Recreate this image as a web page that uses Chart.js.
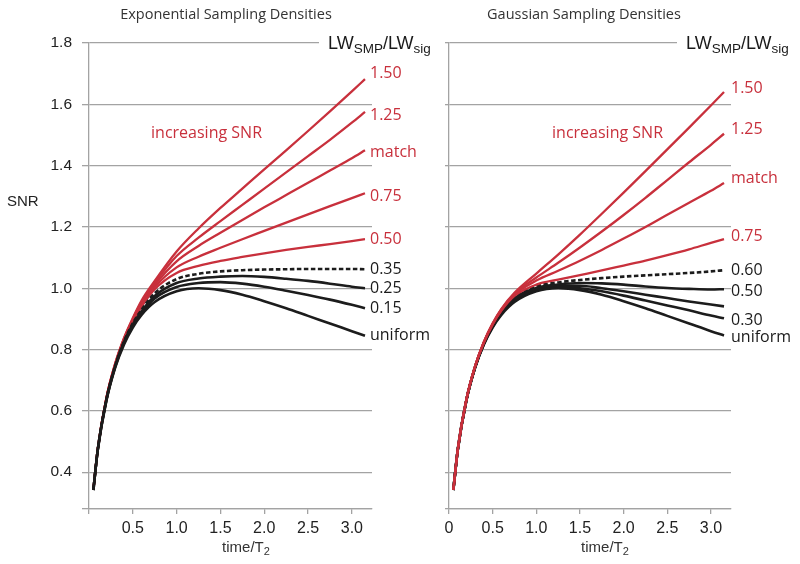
<!DOCTYPE html>
<html>
<head>
<meta charset="utf-8">
<script src="https://cdn.jsdelivr.net/npm/chart.js@4.4.0/dist/chart.umd.min.js"></script>
<style>
  body { margin: 0; background: #fff; }
  #wrap { position: relative; width: 800px; height: 564px; }
  #left { position: absolute; left: 0; top: 0; }
  #right { position: absolute; left: 400px; top: 0; }
</style>
</head>
<body>
<div id="wrap">
  <canvas id="left" width="450" height="564"></canvas>
  <canvas id="right" width="400" height="564"></canvas>
</div>
<script>
// time/T2 sample points shared by every curve
const times = [0.05, 0.1, 0.2, 0.3, 0.4, 0.5, 0.6, 0.75, 1.0, 1.25, 1.5, 1.75, 2.0, 2.25, 2.5, 2.75, 3.0, 3.15];

// exponential sampling densities (SNR)
const expUniform = [0.342, 0.472, 0.635, 0.742, 0.817, 0.872, 0.913, 0.955, 0.990, 1.000, 0.994, 0.979, 0.958, 0.935, 0.910, 0.885, 0.860, 0.845];
const exp015 = [0.342, 0.473, 0.637, 0.745, 0.822, 0.878, 0.920, 0.967, 1.004, 1.017, 1.020, 1.015, 1.005, 0.992, 0.978, 0.963, 0.946, 0.935];
const exp025 = [0.342, 0.473, 0.638, 0.747, 0.825, 0.882, 0.925, 0.975, 1.017, 1.032, 1.038, 1.040, 1.037, 1.031, 1.024, 1.015, 1.005, 1.000];
const exp035 = [0.342, 0.473, 0.639, 0.748, 0.827, 0.886, 0.930, 0.984, 1.030, 1.047, 1.055, 1.059, 1.061, 1.062, 1.063, 1.063, 1.063, 1.062];
const exp050 = [0.342, 0.474, 0.641, 0.751, 0.830, 0.890, 0.940, 0.997, 1.050, 1.073, 1.089, 1.102, 1.114, 1.125, 1.135, 1.144, 1.154, 1.160];
const exp075 = [0.342, 0.474, 0.642, 0.752, 0.832, 0.894, 0.945, 1.004, 1.068, 1.103, 1.132, 1.160, 1.187, 1.214, 1.241, 1.268, 1.294, 1.310];
const expMatch = [0.342, 0.475, 0.643, 0.753, 0.834, 0.897, 0.950, 1.011, 1.088, 1.138, 1.181, 1.223, 1.264, 1.304, 1.344, 1.384, 1.424, 1.450];
const exp125 = [0.342, 0.475, 0.644, 0.754, 0.836, 0.900, 0.955, 1.017, 1.105, 1.165, 1.219, 1.272, 1.325, 1.378, 1.431, 1.484, 1.540, 1.575];
const exp150 = [0.342, 0.476, 0.645, 0.756, 0.838, 0.903, 0.960, 1.024, 1.120, 1.195, 1.262, 1.325, 1.388, 1.450, 1.513, 1.577, 1.642, 1.682];

// gaussian sampling densities (SNR)
const gUniform = [0.342, 0.472, 0.635, 0.742, 0.817, 0.872, 0.913, 0.955, 0.990, 1.000, 0.994, 0.979, 0.958, 0.935, 0.910, 0.885, 0.860, 0.846];
const g030 = [0.342, 0.472, 0.636, 0.743, 0.819, 0.875, 0.918, 0.962, 0.995, 1.004, 1.000, 0.990, 0.976, 0.960, 0.944, 0.928, 0.911, 0.902];
const g040 = [0.342, 0.472, 0.636, 0.744, 0.820, 0.877, 0.920, 0.965, 0.998, 1.008, 1.008, 1.000, 0.990, 0.979, 0.968, 0.957, 0.947, 0.941];
const g050 = [0.342, 0.472, 0.637, 0.744, 0.821, 0.878, 0.922, 0.968, 1.001, 1.012, 1.017, 1.016, 1.012, 1.006, 1.001, 0.998, 0.996, 0.997];
const g060 = [0.342, 0.473, 0.637, 0.745, 0.822, 0.880, 0.924, 0.971, 1.006, 1.019, 1.027, 1.033, 1.038, 1.042, 1.046, 1.050, 1.055, 1.059];
const g075 = [0.342, 0.473, 0.638, 0.746, 0.823, 0.882, 0.927, 0.975, 1.012, 1.028, 1.043, 1.058, 1.074, 1.090, 1.108, 1.127, 1.148, 1.160];
const gMatch = [0.342, 0.473, 0.638, 0.746, 0.824, 0.883, 0.929, 0.979, 1.025, 1.057, 1.090, 1.125, 1.162, 1.200, 1.240, 1.279, 1.318, 1.343];
const g125 = [0.342, 0.473, 0.638, 0.747, 0.825, 0.884, 0.931, 0.982, 1.035, 1.083, 1.133, 1.185, 1.239, 1.295, 1.353, 1.411, 1.468, 1.504];
const g150 = [0.342, 0.473, 0.639, 0.747, 0.826, 0.886, 0.933, 0.985, 1.048, 1.110, 1.175, 1.243, 1.312, 1.382, 1.453, 1.524, 1.596, 1.640];

const expNames = ['uniform', '0.15', '0.25', '0.35', '0.50', '0.75', 'match', '1.25', '1.50'];
const gaussNames = ['1.50', '1.25', 'match', '0.75', '0.60', '0.50', '', '0.30', 'uniform'];

const xTicks = [0, 0.5, 1.0, 1.5, 2.0, 2.5, 3.0];
const yTicks = [0.4, 0.6, 0.8, 1.0, 1.2, 1.4, 1.6, 1.8];
const yMin = 0.28;

const RED = '#c8303c';
const BLACK = '#1c1c1c';
const GRID = '#a3a3a3';

function pts(vals) {
  return vals.map((v, i) => ({ x: times[i], y: v }));
}

function makeDataset(vals, name, color, dashed) {
  return {
    label: name,
    data: pts(vals),
    borderColor: color,
    borderWidth: color === RED ? 2.3 : 2.6,
    borderDash: dashed ? [4.5, 2.5] : [],
    pointRadius: 0,
    fill: false,
    cubicInterpolationMode: 'monotone'
  };
}

// first dataset is drawn on top
const expDatasets = [
  makeDataset(expUniform, expNames[0], BLACK),
  makeDataset(exp015, expNames[1], BLACK),
  makeDataset(exp025, expNames[2], BLACK),
  makeDataset(exp035, expNames[3], BLACK, true),
  makeDataset(exp050, expNames[4], RED),
  makeDataset(exp075, expNames[5], RED),
  makeDataset(expMatch, expNames[6], RED),
  makeDataset(exp125, expNames[7], RED),
  makeDataset(exp150, expNames[8], RED)
];

const gaussDatasets = [
  makeDataset(g150, gaussNames[0], RED),
  makeDataset(g125, gaussNames[1], RED),
  makeDataset(gMatch, gaussNames[2], RED),
  makeDataset(g075, gaussNames[3], RED),
  makeDataset(g060, gaussNames[4], BLACK, true),
  makeDataset(g050, gaussNames[5], BLACK),
  makeDataset(g040, gaussNames[6], BLACK),
  makeDataset(g030, gaussNames[7], BLACK),
  makeDataset(gUniform, gaussNames[8], BLACK)
];

function drawSub(ctx, parts, x, y, big, small, family) {
  // parts: [text, isSub]
  let cx = x;
  parts.forEach(([t, sub]) => {
    ctx.font = (sub ? small : big) + 'px ' + family;
    ctx.fillText(t, cx, sub ? y + big * 0.28 : y);
    cx += ctx.measureText(t).width;
  });
  return cx - x;
}

function measureSub(ctx, parts, big, small, family) {
  let w = 0;
  parts.forEach(([t, sub]) => {
    ctx.font = (sub ? small : big) + 'px ' + family;
    w += ctx.measureText(t).width;
  });
  return w;
}

const textPlugin = {
  id: 'panelText',
  afterDraw(chart, args, o) {
    const ctx = chart.ctx;
    ctx.save();
    ctx.textBaseline = 'middle';

    // panel title
    ctx.fillStyle = '#333';
    ctx.textAlign = 'center';
    ctx.font = '14.5px "Open Sans"';
    ctx.fillText(o.title, o.titleX, 15);

    // LW_SMP/LW_sig header with white backing to cut the top gridline
    const lw = [['LW', false], ['SMP', true], ['/LW', false], ['sig', true]];
    const fam = '"Liberation Sans", Arial';
    const w = measureSub(ctx, lw, 18, 13.5, fam);
    ctx.fillStyle = '#fff';
    ctx.fillRect(o.lwX - 9, 34, w + 12, 22);
    ctx.fillStyle = '#1a1a1a';
    ctx.textAlign = 'left';
    drawSub(ctx, lw, o.lwX, 44, 18, 13.5, fam);

    // "increasing SNR"
    ctx.fillStyle = RED;
    ctx.textAlign = 'right';
    ctx.font = '16px "Open Sans"';
    ctx.fillText('increasing SNR', o.incX, 133);

    // y axis title
    if (o.yTitle) {
      ctx.fillStyle = '#222';
      ctx.textAlign = 'left';
      ctx.font = '15px "Liberation Sans", Arial';
      ctx.fillText('SNR', 7, 202);
    }

    // x axis title time/T2
    ctx.fillStyle = '#333';
    ctx.textAlign = 'left';
    const xt = [['time/T', false], ['2', true]];
    const xw = measureSub(ctx, xt, 15, 11, fam);
    drawSub(ctx, xt, o.xTitleX - xw / 2, 548, 15, 11, fam);

    // labels at the end of each curve
    ctx.font = '16px "Open Sans"';
    chart.data.datasets.forEach((ds, i) => {
      if (!ds.label) return;
      const meta = chart.getDatasetMeta(i);
      const last = meta.data[meta.data.length - 1];
      ctx.fillStyle = ds.borderColor === RED ? RED : '#1a1a1a';
      const dy = (o.nudge && o.nudge[ds.label]) || 0;
      ctx.fillText(ds.label, last.x + o.labelGap, last.y + dy);
    });
    ctx.restore();
  }
};

function makeChart(id, datasets, cfg) {
  return new Chart(document.getElementById(id), {
    type: 'line',
    data: { datasets: datasets },
    plugins: [textPlugin],
    options: {
      responsive: false,
      animation: false,
      events: [],
      layout: { padding: { top: 43, right: cfg.padRight, left: 0, bottom: 0 } },
      plugins: {
        legend: { display: false },
        tooltip: { enabled: false },
        panelText: cfg.text
      },
      scales: {
        x: {
          type: 'linear',
          min: 0,
          max: 3.23,
          afterBuildTicks: s => { s.ticks = xTicks.map(v => ({ value: v })); },
          afterFit: s => { s.height = 55; },
          ticks: {
            autoSkip: false,
            maxRotation: 0,
            padding: 5,
            color: '#222',
            font: { family: '"Liberation Sans", Arial', size: 16 },
            callback: v => v === 0 ? (cfg.showZero ? '0' : '') : v.toFixed(1)
          },
          grid: { drawOnChartArea: false, drawTicks: true, tickLength: 5, color: GRID, lineWidth: 1.3 },
          border: { color: GRID, width: 1.3 }
        },
        y: {
          min: yMin,
          max: 1.8,
          afterBuildTicks: s => { s.ticks = [yMin].concat(yTicks).map(v => ({ value: v })); },
          afterFit: s => { s.width = cfg.yWidth; },
          ticks: {
            padding: 10,
            color: '#222',
            font: { family: '"Liberation Sans", Arial', size: 15.5 },
            callback: v => (cfg.yLabels && yTicks.includes(v)) ? v.toFixed(1) : ''
          },
          grid: { color: GRID, lineWidth: 1.3, tickLength: cfg.yTick },
          border: { color: GRID, width: 1.3 }
        }
      }
    }
  });
}

makeChart('left', expDatasets, {
  padRight: 78, yWidth: 89, yTick: 7, yLabels: true, showZero: false,
  text: {
    title: 'Exponential Sampling Densities', titleX: 226, lwX: 328, incX: 262,
    yTitle: true, xTitleX: 246, labelGap: 5,
    nudge: { '1.50': -6, '1.25': 3, 'match': 2, '0.75': 3 }
  }
});

makeChart('right', gaussDatasets, {
  padRight: 69, yWidth: 49, yTick: 4, yLabels: false, showZero: true,
  text: {
    title: 'Gaussian Sampling Densities', titleX: 184, lwX: 286, incX: 263,
    yTitle: false, xTitleX: 205, labelGap: 7,
    nudge: { '1.50': -4, '1.25': -4, 'match': -5, '0.75': -3, '0.50': 2, '0.30': 2, 'uniform': 2 }
  }
});
</script>
</body>
</html>
